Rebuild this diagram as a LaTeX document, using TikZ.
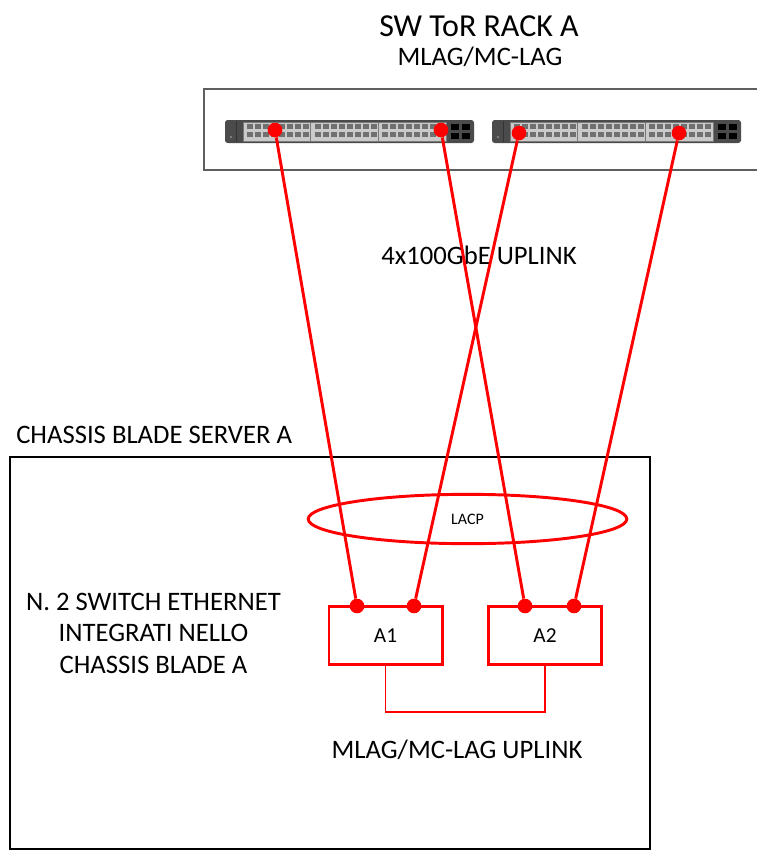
\documentclass[tikz,border=0pt]{standalone}
\usepackage{fontspec}
\setmainfont{Carlito}
\usetikzlibrary{shapes.geometric}
\definecolor{rackgray}{HTML}{5F5F5F}
\definecolor{swbody}{HTML}{4B4B4B}
\definecolor{swpanel}{HTML}{CACACA}
\definecolor{swport}{HTML}{707070}
\tikzset{
  big/.style={inner sep=0pt,font=\fontsize{20}{23.6}\selectfont},
  dot/.style={circle,fill=red,inner sep=0pt,minimum size=11pt},
  link/.style={red,line width=2.2pt},
  swbox/.style={draw=red,line width=2pt,minimum width=85pt,minimum height=43.5pt,inner sep=0pt,font=\fontsize{16}{19}\selectfont},
  lacp/.style={ellipse,draw=red,line width=2.2pt,minimum width=239pt,minimum height=37pt,inner sep=0pt,font=\fontsize{12}{14}\selectfont},
}
\newcommand\rackswitch[1]{%
\begin{scope}[shift={#1}]
\fill[swbody,rounded corners=2pt] (0,0) rectangle (249,23);
\draw[black!80,line width=0.6pt] (11,1)--(11,22);
\fill[gray] (6,17) circle (1.1pt);
\draw[swpanel!60!black,fill=swpanel,line width=0.4pt] (18,2) rectangle (221,21);
\foreach \g in {0,1,2}{
  \draw[swpanel!60!black,line width=0.4pt] ({18+\g*67.7},2)--({18+\g*67.7},21);
  \foreach \i in {0,...,7}{
    \fill[swport] ({22+\g*67.7+\i*8},4) rectangle ++(6,5);
    \fill[swport] ({22+\g*67.7+\i*8},12) rectangle ++(6,5);
  }}
\foreach \i in {0,1}\foreach \j in {0,1}
  \fill[black] ({226+\i*11},{4+\j*9}) rectangle ++(8,6);
\end{scope}}

\begin{document}
\begin{tikzpicture}[x=0.75pt,y=-0.75pt]
\useasboundingbox (0,0) rectangle (757,851);
\clip (0,0) rectangle (757,851);
\node[anchor=base,inner sep=0pt,font=\fontsize{24}{28}\selectfont] (title) at (479,36) {SW ToR RACK A};
\node[anchor=base,big] (mlag) at (480,65) {MLAG/MC-LAG};
\draw[rackgray,line width=2.2pt] (204,89) rectangle (765,170);
\rackswitch{(225,120)}
\rackswitch{(492,120)}
\node[anchor=base,big] (uplink) at (479,264) {4x100GbE UPLINK};
\node[anchor=base west,big] (chassis) at (16,443) {CHASSIS BLADE SERVER A};
\draw[line width=2pt] (10,457) rectangle (650,849);
\node[big,align=center] (integr) at (153.5,633) {N. 2 SWITCH ETHERNET\\INTEGRATI NELLO\\CHASSIS BLADE A};
\node[lacp] (lacp) at (467.5,519) {LACP};
\node[swbox] (A1) at (385.5,635.5) {A1};
\node[swbox] (A2) at (545,635.5) {A2};
\draw[red,line width=1.3pt] (A1.south) -- ++(0,46) -| (A2.south);
\node[anchor=base,big] (mclag) at (457,758) {MLAG/MC-LAG UPLINK};
% porte ToR
\node[dot] (t1) at (275,130) {};
\node[dot] (t2) at (441,130) {};
\node[dot] (t3) at (519,133) {};
\node[dot] (t4) at (679,133) {};
% porte switch blade
\node[dot] (b1) at (357,606) {};
\node[dot] (b2) at (414,606) {};
\node[dot] (b3) at (525,606) {};
\node[dot] (b4) at (574,606) {};
\draw[link] (t1) -- (b1);
\draw[link] (t2) -- (b3);
\draw[link] (t3) -- (b2);
\draw[link] (t4) -- (b4);
\end{tikzpicture}
\end{document}
